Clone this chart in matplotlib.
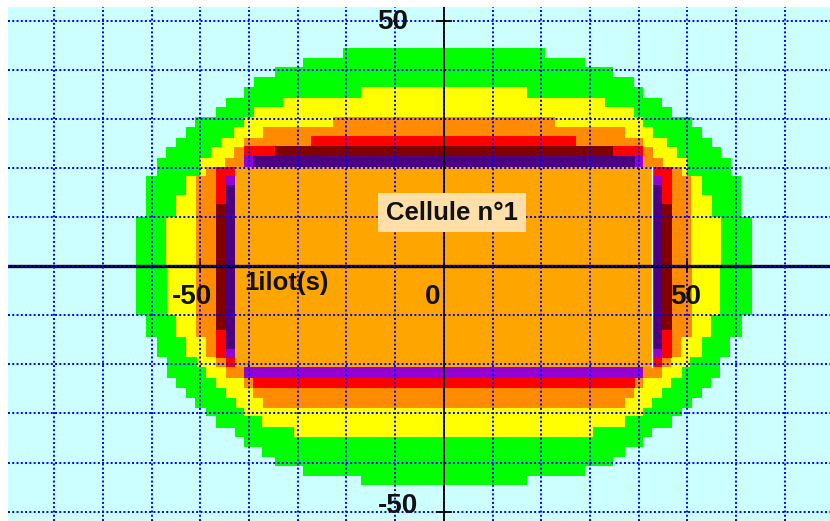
import numpy as np
import matplotlib
matplotlib.use("Agg")
import matplotlib.pyplot as plt

# Effect zones (metres).
# *_top_y / *_bot_y: row edges going away from the x axis (upwards / downwards)
# *_top_w / *_bot_w: half width of each row
green_top_y = [0, 10.0, 18.3, 22.1, 24.2, 26.1, 28.3, 30.3, 32.3, 34.2, 36.5, 38.6, 40.5, 42.4, 44.4]
green_top_w = [63.2, 61.1, 59.0, 57.0, 55.0, 53.0, 51.0, 46.8, 44.8, 41.0, 39.0, 34.7, 29.0, 20.8]
green_bot_y = [0, 10.0, 14.5, 18.6, 22.7, 24.8, 26.8, 28.9, 30.6, 33.0, 34.7, 36.9, 38.8, 40.8, 42.8, 44.6]
green_bot_w = [63.2, 61.2, 58.8, 56.8, 54.9, 53.0, 51.0, 48.9, 46.8, 42.8, 41.0, 37.3, 34.7, 29.0, 17.0]

yellow_top_y = [0, 10.0, 14.4, 18.3, 22.1, 24.2, 26.1, 28.3, 30.3, 32.3, 34.2, 36.5]
yellow_top_w = [57.0, 55.0, 53.0, 50.0, 47.8, 45.8, 43.0, 41.0, 39.0, 33.0, 17.0]
yellow_bot_y = [0, 10.0, 14.5, 18.6, 20.6, 22.7, 24.8, 26.8, 28.9, 30.6, 32.7, 34.7]
yellow_bot_w = [56.8, 54.9, 53.0, 50.6, 48.9, 46.7, 44.8, 42.7, 41.0, 37.3, 30.7]

orange_top_y = [0, 18.3, 20.2, 22.1, 24.2, 26.1, 28.3, 30.3]
orange_top_w = [50.8, 48.9, 45.0, 43.0, 41.0, 37.2, 22.8]
orange_bot_y = [0, 14.5, 18.6, 20.6, 22.7, 24.8, 26.8, 28.9]
orange_bot_w = [50.9, 48.8, 46.7, 44.8, 41.0, 39.1, 37.2]

# Thin bands round the cell, mirrored left/right: inner |x|, outer |x|, y from, y to, kind
strip_inner = [0, 0, 0, 0, 0, 0, 0,
               42.8, 42.8, 42.8, 42.8, 42.8, 44.7, 44.7, 44.7]
strip_outer = [27.2, 41.0, 34.7, 41.0, 39.2, 41.0, 39.2,
               44.7, 44.7, 44.7, 44.7, 44.7, 46.8, 46.8, 46.8]
strip_y0 = [24.4, 22.4, 22.4, 20.1, 20.1, -22.7, -24.8,
            18.3, 16.5, -16.9, -18.7, -20.6, 12.6, -13.1, -18.7]
strip_y1 = [26.5, 24.4, 24.4, 22.4, 22.4, -20.6, -22.7,
            20.1, 18.3, 16.5, -16.9, -18.7, 20.1, 12.6, -13.1]
strip_kind = ["red", "red", "darkred", "violet", "indigo", "violet", "red",
              "red", "violet", "indigo", "violet", "red", "red", "darkred", "red"]

# The cell itself
cell_half_w = 42.8
cell_y = [-20.6, 20.1]

axis_ticks = [-50, 50]
cell_label = "Cellule n°1"
ilot_label = "1ilot(s)"

KIND_COLORS = {
    "red": "#FF0000",
    "darkred": "#800000",
    "indigo": "#4B0082",
    "violet": "#9400D3",
}


def _staircase(top_y, top_w, bot_y, bot_w):
    """Closed stepped outline of a zone, symmetric about x = 0."""
    ty = np.asarray(top_y, dtype=float)
    tw = np.asarray(top_w, dtype=float)
    by = -np.asarray(bot_y, dtype=float)
    bw = np.asarray(bot_w, dtype=float)

    up_x = np.repeat(tw, 2)
    up_y = np.column_stack([ty[:-1], ty[1:]]).ravel()
    low_x = np.repeat(bw[::-1], 2)
    low_y = np.column_stack([by[1:], by[:-1]])[::-1].ravel()

    right_x = np.concatenate([low_x, up_x])
    right_y = np.concatenate([low_y, up_y])
    xs = np.concatenate([right_x, -right_x[::-1]])
    ys = np.concatenate([right_y, right_y[::-1]])
    return xs, ys


fig = plt.figure(figsize=(8.30, 5.21), dpi=100)
ax = fig.add_axes([8 / 830, 0, 822 / 830, 513.7 / 521])
ax.set_facecolor("#CCFFFF")

zones = [
    (green_top_y, green_top_w, green_bot_y, green_bot_w, "#00FF00"),
    (yellow_top_y, yellow_top_w, yellow_bot_y, yellow_bot_w, "#FFFF00"),
    (orange_top_y, orange_top_w, orange_bot_y, orange_bot_w, "#FF8C00"),
]
for ty, tw, by, bw, color in zones:
    xs, ys = _staircase(ty, tw, by, bw)
    ax.fill(xs, ys, color=color, lw=0, antialiased=False, zorder=1)

for x0, x1, y0, y1, kind in zip(strip_inner, strip_outer, strip_y0, strip_y1, strip_kind):
    for sign in (-1, 1):
        ax.bar(sign * x0, y1 - y0, width=sign * (x1 - x0), bottom=y0, align="edge",
               color=KIND_COLORS[kind], lw=0, antialiased=False, zorder=1.1)

ax.bar(-cell_half_w, cell_y[1] - cell_y[0], width=2 * cell_half_w, bottom=cell_y[0],
       align="edge", color="#FFA500", lw=0, antialiased=False, zorder=1.2)
ax.plot([cell_half_w, cell_half_w], cell_y, color="white", lw=1.0, zorder=1.3)

# grid
ax.set_xlim(-89.5, 79.3)
ax.set_ylim(-51.9, 52.7)
ax.set_xticks(np.arange(-80, 80, 10))
ax.set_yticks(np.arange(-50, 51, 10))
ax.tick_params(length=0, labelbottom=False, labelleft=False)
ax.grid(True, color="#0000FF", lw=1.4, linestyle=(0, (1, 1.2)))
ax.set_axisbelow(False)
for s in ax.spines.values():
    s.set_visible(False)

# axes through the origin
ax.axhline(0, color="black", lw=2.4, zorder=2.2)
ax.axvline(0, color="black", lw=1.3, zorder=2.7)
for t in axis_ticks:
    ax.plot([t, t], [-1.0, 1.0], color="black", lw=1.2, zorder=2.7)
    ax.plot([-1.45, 1.45], [t, t], color="black", lw=1.3, zorder=2.7)

tick_font = dict(family="Liberation Sans", size=20, weight="bold", color="#111111", zorder=4)
ax.text(-51.7, -6.3, str(axis_ticks[0]), ha="center", va="center", **tick_font)
ax.text(-2.4, -6.3, "0", ha="center", va="center", **tick_font)
ax.text(49.6, -6.3, str(axis_ticks[1]), ha="center", va="center", **tick_font)
ax.text(-7.4, 49.7, str(axis_ticks[1]), ha="right", va="center", **tick_font)
ax.text(-5.3, -48.9, str(axis_ticks[0]), ha="right", va="center", **tick_font)

ax.text(1.7, 10.9, cell_label, ha="center", va="center", family="Liberation Sans",
        weight="bold", size=18.5, color="#111111", zorder=4,
        bbox=dict(boxstyle="square,pad=0.3", fc="#FFDFA8", ec="none"))
ax.text(-40.9, -3.4, ilot_label, ha="left", va="center", family="Liberation Sans",
        weight="bold", size=18.5, color="#111111", zorder=4)

fig.savefig("out.png", dpi=100)
